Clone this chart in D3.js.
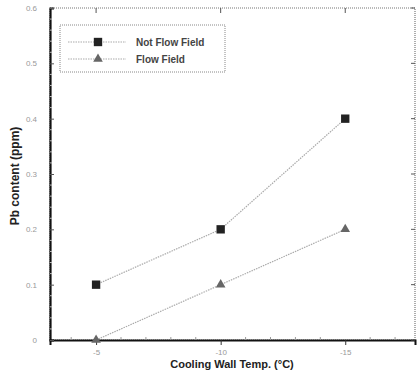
<!DOCTYPE html>
<html><head><meta charset="utf-8">
<script src="https://cdn.jsdelivr.net/npm/d3@7"></script>
<style>body{margin:0;background:#fff}svg{display:block}</style>
</head><body><svg id="c" width="417" height="376"></svg>
<script>
const temps = [-5, -10, -15];
const notFlowField = [0.1, 0.2, 0.4];
const flowField = [0.0, 0.1, 0.2];
const yTicks = [0, 0.1, 0.2, 0.3, 0.4, 0.5, 0.6];
const xTicks = [-5, -10, -15];
const seriesNames = ["Not Flow Field", "Flow Field"];

const svg = d3.select("#c");
const L = 50, R = 415, T = 8, B = 340;
const x = d3.scaleLinear().domain([-3.15, -17.8]).range([L, R]);
const y = d3.scaleLinear().domain([0, 0.6]).range([B, T]);

svg.append("rect").attr("x", L).attr("y", T).attr("width", R - L).attr("height", B - T)
  .attr("fill", "none").attr("stroke", "#777").attr("stroke-width", 1.2).attr("stroke-dasharray", "1,1");

const gx = svg.append("g").attr("transform", `translate(0,${B})`)
  .call(d3.axisBottom(x).tickValues(xTicks).tickSize(5).tickFormat(d => "-" + Math.abs(d)));
gx.select(".domain").attr("stroke", "#111").attr("stroke-width", 2);
gx.selectAll("text").attr("fill", "#999").attr("font-size", 8).attr("font-family", "Arial").attr("dy", "0.9em");
gx.selectAll(".tick line").attr("stroke", "#333");
const minorX = d3.range(-4, -18, -1).filter(v => !xTicks.includes(v));
svg.append("g").selectAll("line").data(minorX).join("line")
  .attr("x1", d => x(d)).attr("x2", d => x(d)).attr("y1", B).attr("y2", B - 3)
  .attr("stroke", "#999");
svg.append("g").selectAll("line").data(xTicks).join("line")
  .attr("x1", d => x(d)).attr("x2", d => x(d)).attr("y1", T).attr("y2", T + 5).attr("stroke", "#555");

const gy = svg.append("g").attr("transform", `translate(${L},0)`)
  .call(d3.axisLeft(y).tickValues(yTicks).tickSize(-4).tickFormat(d => d === 0 ? "0" : d3.format(".1f")(d)));
gy.select(".domain").attr("stroke", "#111").attr("stroke-width", 2.2);
gy.selectAll("text").attr("fill", "#999").attr("font-size", 8).attr("font-family", "Arial").attr("x", -13);
gy.selectAll(".tick line").attr("stroke", "#555");
svg.append("g").selectAll("line").data(yTicks).join("line")
  .attr("x1", R).attr("x2", R - 4).attr("y1", d => y(d)).attr("y2", d => y(d)).attr("stroke", "#555");
const minorY = d3.range(0.02, 0.6, 0.02).filter(v => Math.abs(v * 10 - Math.round(v * 10)) > 0.01);
svg.append("g").selectAll("line").data(minorY).join("line")
  .attr("x1", L).attr("x2", L + 2).attr("y1", d => y(d)).attr("y2", d => y(d)).attr("stroke", "#bbb");

const line = d3.line().x((d, i) => x(temps[i])).y(d => y(d));
[notFlowField, flowField].forEach(s => {
  svg.append("path").datum(s).attr("d", line).attr("fill", "none")
    .attr("stroke", "#aaa").attr("stroke-width", 1.2).attr("stroke-dasharray", "1.5,1");
});
const circ = d3.symbol().type(d3.symbolSquare).size(70);
svg.append("g").selectAll("path").data(notFlowField).join("path")
  .attr("transform", (d, i) => `translate(${x(temps[i])},${y(d)})`).attr("d", circ)
  .attr("fill", "#222");
const tri = d3.symbol().type(d3.symbolTriangle).size(40);
svg.append("g").selectAll("path.t").data(flowField).join("path")
  .attr("transform", (d, i) => `translate(${x(temps[i])},${y(d)})`).attr("d", tri)
  .attr("fill", "#666");

const lg = svg.append("g");
lg.append("rect").attr("x", 60).attr("y", 25).attr("width", 165).attr("height", 47)
  .attr("fill", "#fff").attr("stroke", "#888").attr("stroke-dasharray", "1,1");
seriesNames.forEach((n, i) => {
  const yy = 42 + i * 17;
  lg.append("line").attr("x1", 68).attr("x2", 126).attr("y1", yy).attr("y2", yy)
    .attr("stroke", "#aaa").attr("stroke-width", 1.2).attr("stroke-dasharray", "1.5,1");
  if (i === 0) lg.append("path").attr("transform", `translate(98,${yy})`).attr("d", circ).attr("fill", "#222");
  else lg.append("path").attr("transform", `translate(98,${yy})`).attr("d", tri).attr("fill", "#666");
  lg.append("text").attr("x", 136).attr("y", yy + 3.5).text(n)
    .attr("font-family", "Arial").attr("font-size", 10).attr("font-weight", "bold").attr("fill", "#444");
});

svg.append("text").attr("x", 232).attr("y", 368).attr("text-anchor", "middle")
  .attr("font-family", "Arial").attr("font-weight", "bold").attr("font-size", 11).attr("fill", "#222")
  .text("Cooling Wall Temp. (°C)");
svg.append("text").attr("transform", "translate(19,176) rotate(-90)").attr("text-anchor", "middle")
  .attr("font-family", "Arial").attr("font-weight", "bold").attr("font-size", 12).attr("fill", "#222")
  .text("Pb content (ppm)");
</script></body></html>
